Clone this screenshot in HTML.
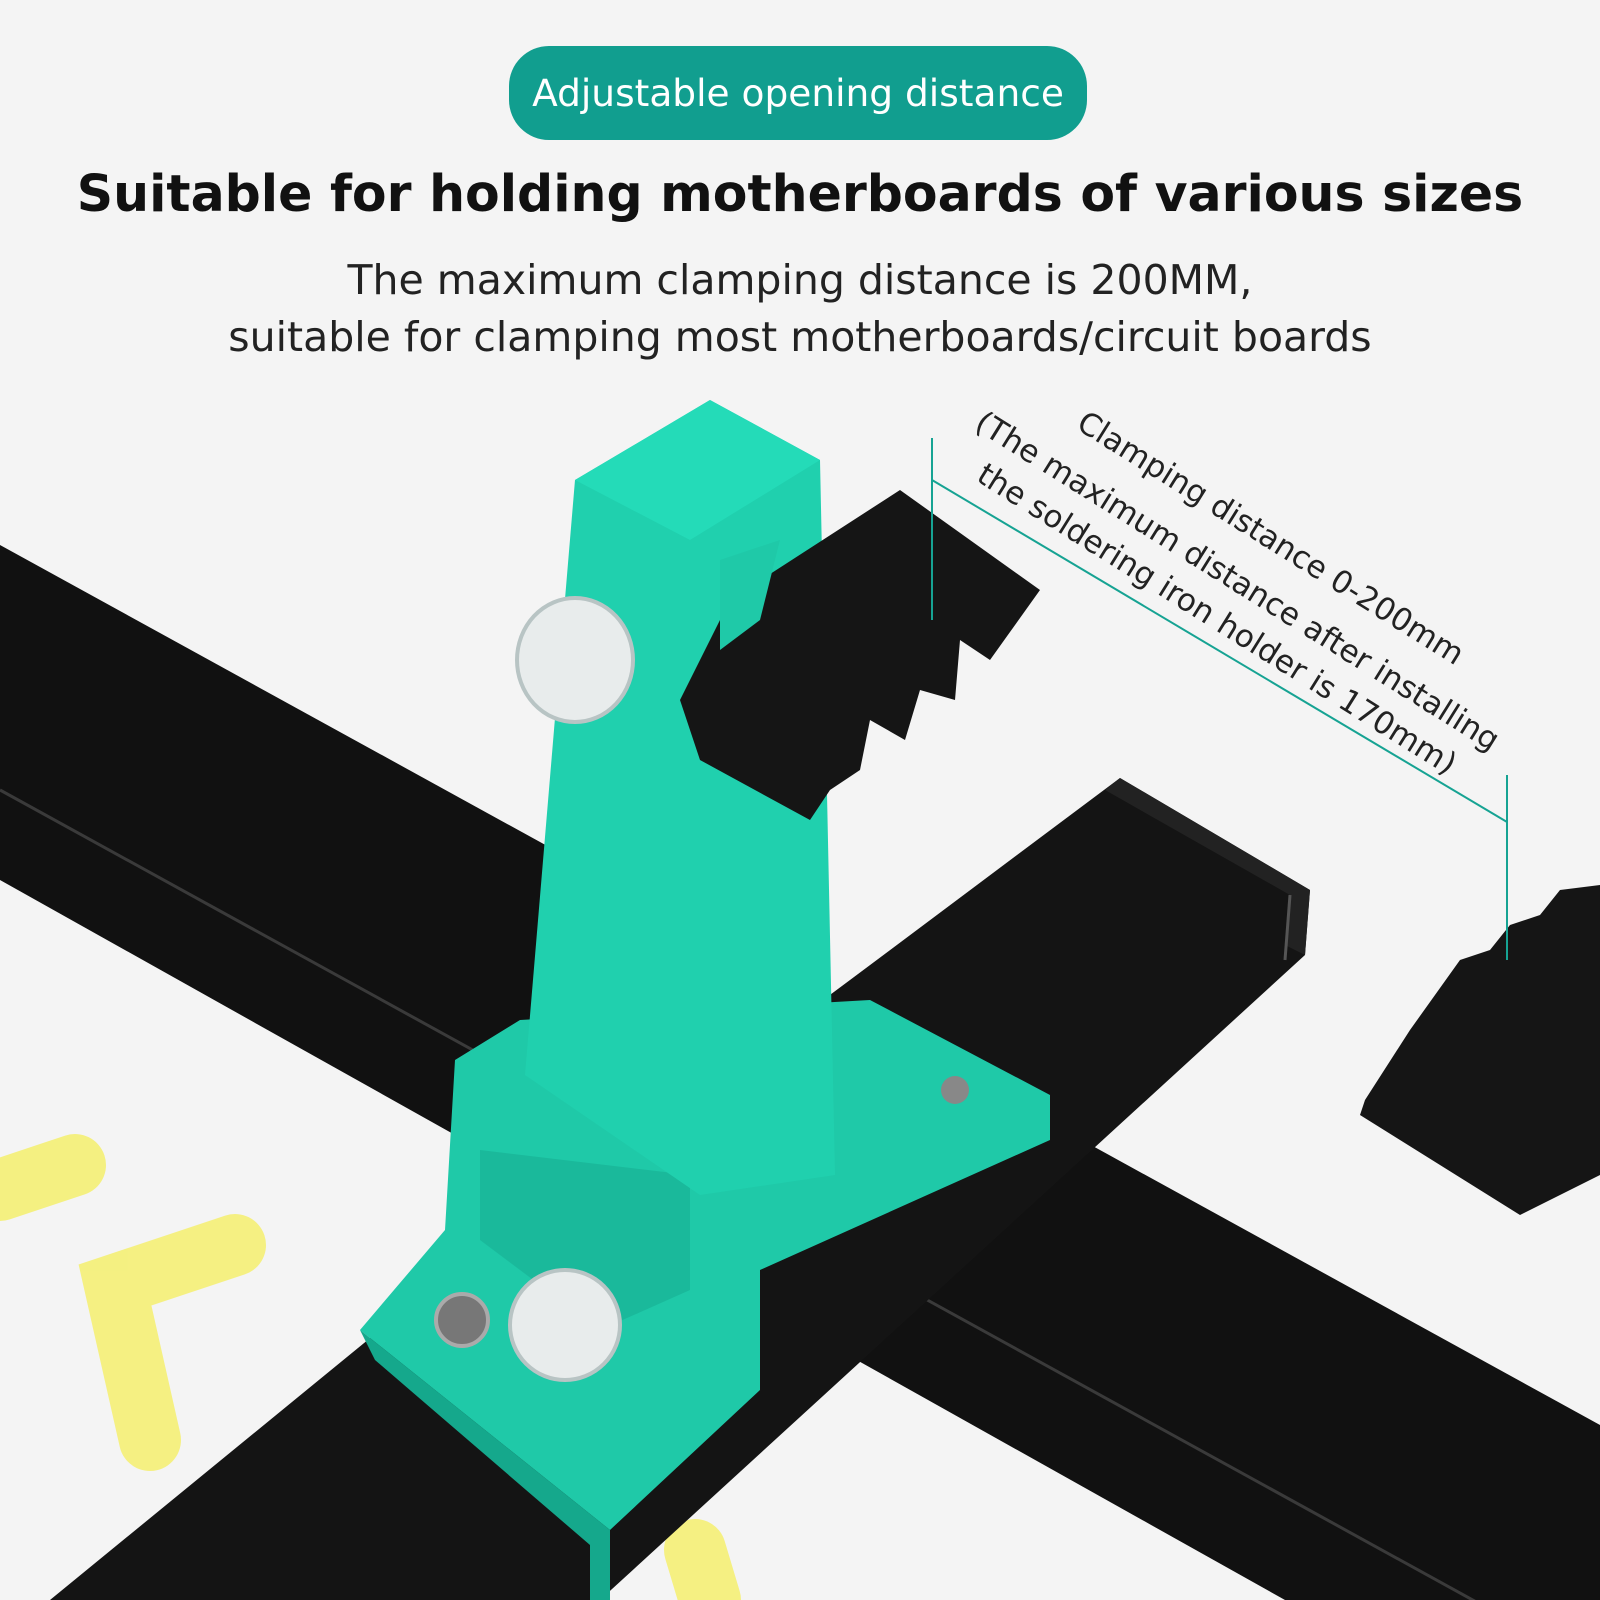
<!DOCTYPE html>
<html><head><meta charset="utf-8"><style>
html,body{margin:0;padding:0;background:#f4f4f4;}
body{width:1600px;height:1600px;overflow:hidden;position:relative;font-family:"DejaVu Sans","Liberation Sans",sans-serif;}
.pill{position:absolute;left:509px;top:46px;width:578px;height:94px;border-radius:40px;background:#119e8f;color:#fff;font-size:37.5px;line-height:94px;text-align:center;}
.h1{position:absolute;left:0;width:1600px;top:164px;text-align:center;font-weight:bold;font-size:50.5px;color:#111;}
.sub{position:absolute;left:0;width:1600px;text-align:center;font-size:41px;color:#222;}
svg{position:absolute;left:0;top:0;}
</style></head><body>
<svg width="1600" height="1600" viewBox="0 0 1600 1600">
<g stroke="#f5f075" stroke-width="62" stroke-linecap="round" fill="none" opacity="0.9">
<polyline points="0,1190 75,1165"/>
<polyline points="235,1245 115,1285 150,1440"/>
<polyline points="695,1550 710,1600"/>
</g>
<polygon points="0,545 1600,1425 1600,1600 1285,1600 0,880" fill="#111"/>
<line x1="0" y1="790" x2="1600" y2="1670" stroke="#3a3a3a" stroke-width="3"/>
<polygon points="1120,778 1310,890 1305,955 600,1600 50,1600 380,1330 850,980" fill="#141414"/>
<polygon points="1120,778 1310,890 1305,955 1285,945 1290,895 1105,790" fill="#222"/>
<line x1="1290" y1="895" x2="1285" y2="960" stroke="#555" stroke-width="3"/>
<polygon points="455,1060 520,1020 870,1000 1050,1095 1050,1140 760,1270 760,1390 610,1530 360,1330 445,1230" fill="#1fc9a8"/>
<polygon points="360,1330 610,1530 610,1600 590,1600 590,1545 375,1360" fill="#15a88c"/>
<polygon points="480,1150 690,1175 690,1290 600,1330 480,1240" fill="#1ab99b"/>
<polygon points="575,480 710,400 820,460 835,1175 700,1195 525,1075" fill="#20d0ae"/>
<polygon points="575,480 710,400 820,460 690,540" fill="#24dbb8"/>
<ellipse cx="575" cy="660" rx="58" ry="62" fill="#e8ecec" stroke="#b8c4c4" stroke-width="4"/>
<ellipse cx="565" cy="1325" rx="55" ry="55" fill="#e8ecec" stroke="#b8c4c4" stroke-width="4"/>
<circle cx="462" cy="1320" r="26" fill="#777" stroke="#aaa" stroke-width="4"/>
<circle cx="955" cy="1090" r="14" fill="#888"/>
<polygon points="730,600 900,490 1040,590 990,660 960,640 955,700 920,690 905,740 870,720 860,770 830,790 810,820 700,760 680,700" fill="#151515"/>
<polygon points="720,560 780,540 760,620 720,650" fill="#1fc9a8"/>
<polygon points="1365,1100 1410,1030 1460,960 1490,950 1510,925 1540,915 1560,890 1600,885 1600,1175 1520,1215 1400,1140 1360,1115" fill="#151515"/>
<g stroke="#16a393" stroke-width="2" fill="none">
<line x1="932" y1="438" x2="932" y2="620"/>
<line x1="1507" y1="775" x2="1507" y2="960"/>
<line x1="932" y1="480" x2="1507" y2="822"/>
</g>
<g font-family="DejaVu Sans, Liberation Sans, sans-serif" font-size="31" fill="#222">
<text transform="translate(1075,428) rotate(32)">Clamping distance 0-200mm</text>
<text transform="translate(973,428) rotate(32)">(The maximum distance after installing</text>
<text transform="translate(975,480) rotate(32)">the soldering iron holder is 170mm)</text>
</g>
</svg>
<div class="pill">Adjustable opening distance</div>
<div class="h1">Suitable for holding motherboards of various sizes</div>
<div class="sub" style="top:256px">The maximum clamping distance is 200MM,</div>
<div class="sub" style="top:313px">suitable for clamping most motherboards/circuit boards</div>
</body></html>
